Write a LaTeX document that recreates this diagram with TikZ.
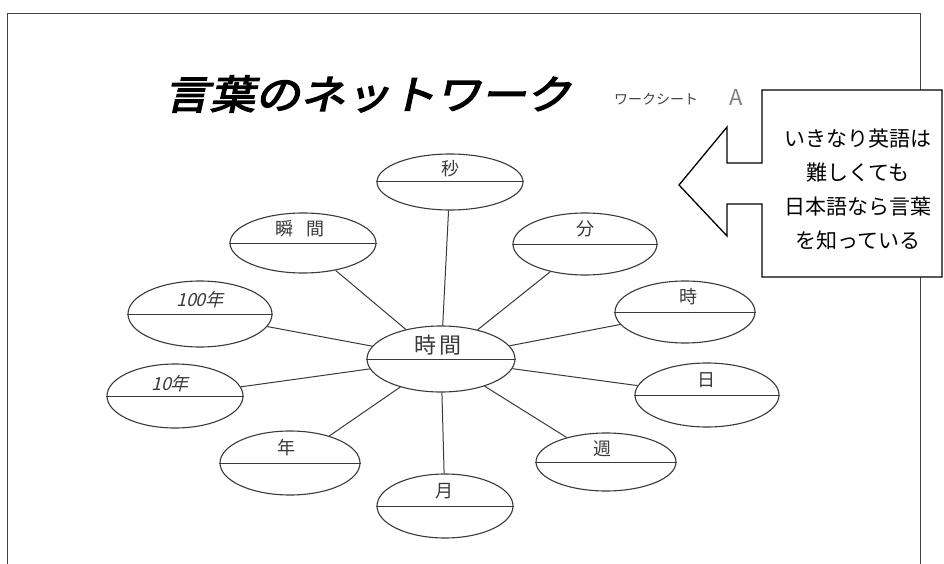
\documentclass[tikz,border=0pt]{standalone}
\usepackage{fontspec}
\setmainfont{Noto Sans CJK JP}
\newfontfamily\jpfont{Noto Sans CJK JP}
\newfontfamily\slantfont[FakeSlant=0.25]{Noto Sans CJK JP}
\newfontfamily\titlefont[FakeSlant=0.22,FakeBold=3.5,FakeStretch=1.13]{Noto Sans CJK JP}
\usetikzlibrary{shapes.geometric}
\definecolor{ink}{HTML}{3A3A3A}
\definecolor{frame}{HTML}{444444}
\begin{document}
\begin{tikzpicture}[x=1pt,y=-1pt,
  ell/.style 2 args={ellipse,draw=ink,line width=1.1pt,minimum width=#1pt,minimum height=#2pt,inner sep=0pt},
  lbl/.style={font=\jpfont\fontsize{18}{18}\selectfont,text=ink,inner sep=0pt},
  conn/.style={draw=ink,line width=1pt},
  frameline/.style={draw=frame,line width=1pt}]
\useasboundingbox (0,0) rectangle (944,564);
\fill[white] (0,0) rectangle (944,564);
% outer frame (open at bottom)
\coordinate (fbl) at (7,564);
\coordinate (ftl) at (7,14);
\coordinate (ftr) at (920,14);
\coordinate (fbr) at (920,564);
\draw[frameline] (fbl) -- (ftl) -- (ftr) -- (fbr);
% title
\node[font=\titlefont\fontsize{40}{40}\selectfont,inner sep=0pt] (title) at (368,94) {言葉のネットワーク};
\node[font=\jpfont\fontsize{14}{14}\selectfont,text=frame,inner sep=0pt] (sheet) at (656,99) {ワークシート};
\node[font=\jpfont\fontsize{22}{22}\selectfont,text=gray,inner sep=0pt] (sheetA) at (736,97) {A};
% ellipses
\node[ell={146}{56}] (byo) at (450,182) {};
\node[ell={144}{62}] (fun) at (585,244) {};
\node[ell={140}{62}] (ji) at (685,312) {};
\node[ell={144}{64}] (nichi) at (707,395) {};
\node[ell={140}{58}] (shu) at (606,462) {};
\node[ell={136}{64}] (tsuki) at (445,506) {};
\node[ell={140}{64}] (nen) at (290,463) {};
\node[ell={136}{64}] (juunen) at (175,396) {};
\node[ell={144}{66}] (hyakunen) at (200,314) {};
\node[ell={146}{60}] (shunkan) at (303,243) {};
\node[ell={148}{66}] (jikan) at (441,359) {};
% dividers
\foreach \n in {byo,fun,ji,nichi,shu,tsuki,nen,juunen,hyakunen,shunkan,jikan}
  \draw[conn] (\n.west) -- (\n.east);
% labels
\node[lbl] (byo-t) at (450,169) {秒};
\node[lbl] (fun-t) at (585,229) {分};
\node[lbl] (ji-t) at (688,297) {時};
\node[lbl] (nichi-t) at (706,380) {日};
\node[lbl] (shu-t) at (602,449) {週};
\node[lbl] (tsuki-t) at (444,491) {月};
\node[lbl] (nen-t) at (286,448) {年};
\node[lbl,font=\slantfont\fontsize{18}{18}\selectfont] (juunen-t) at (170,384) {10年};
\node[lbl,font=\slantfont\fontsize{18}{18}\selectfont] (hyakunen-t) at (200,300) {100年};
\node[lbl] (shunkan-t) at (300,229) {瞬\hspace{14pt}間};
\node[lbl,font=\jpfont\fontsize{22}{22}\selectfont] (jikan-t) at (438,345) {時\hspace{4pt}間};
% connectors
\foreach \n in {byo,fun,ji,nichi,shu,tsuki,nen,juunen,hyakunen,shunkan}
  \draw[conn] (\n) -- (jikan);
% callout box with arrow
\coordinate (c1) at (762,90);
\coordinate (c2) at (942,90);
\coordinate (c3) at (942,277);
\coordinate (c4) at (762,277);
\coordinate (c5) at (762,204);
\coordinate (c6) at (727,204);
\coordinate (c7) at (727,236);
\coordinate (c8) at (679,185);
\coordinate (c9) at (727,127);
\coordinate (c10) at (727,163);
\coordinate (c11) at (762,163);
\filldraw[fill=white,draw=black,line width=1.3pt] (c1) -- (c2) -- (c3) -- (c4) -- (c5) -- (c6) -- (c7) -- (c8) -- (c9) -- (c10) -- (c11) -- cycle;
\node[font=\jpfont\fontsize{21}{34}\selectfont,align=center,inner sep=0pt] (note) at (858,189)
  {いきなり英語は\\難しくても\\日本語なら言葉\\を知っている};
\end{tikzpicture}
\end{document}
